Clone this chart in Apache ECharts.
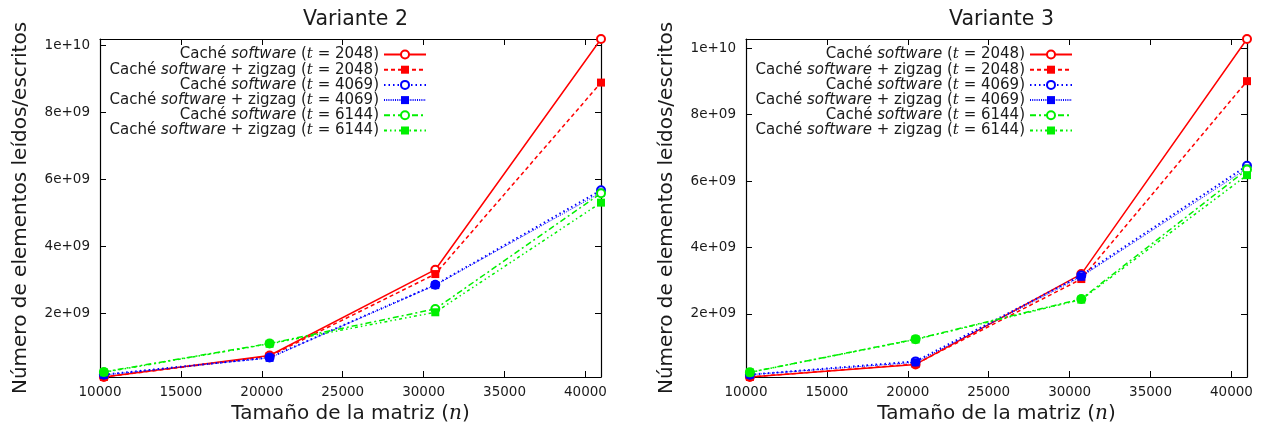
<!DOCTYPE html>
<html>
<head>
<meta charset="utf-8">
<script src="https://cdn.jsdelivr.net/npm/echarts@6/dist/echarts.min.js"></script>
<style>html,body{margin:0;padding:0;background:#fff;}#c{width:1264px;height:432px;}</style>
</head>
<body>
<div id="c"></div>
<script>
// ---- data ----
const xValues = [10240, 20480, 30720, 40960];
const xTicks = [10000, 15000, 20000, 25000, 30000, 35000, 40000];
const yTicks = [2e9, 4e9, 6e9, 8e9, 1e10];
const titles = ['Variante 2', 'Variante 3'];
const seriesNames = [
  'Caché software (t = 2048)',
  'Caché software + zigzag (t = 2048)',
  'Caché software (t = 4069)',
  'Caché software + zigzag (t = 4069)',
  'Caché software (t = 6144)',
  'Caché software + zigzag (t = 6144)'
];
// Variante 2
const v2_sw2048 = [0.11e9, 0.75e9, 3.31e9, 10.19e9];
const v2_zz2048 = [0.11e9, 0.73e9, 3.18e9, 8.89e9];
const v2_sw4069 = [0.18e9, 0.69e9, 2.86e9, 5.68e9];
const v2_zz4069 = [0.17e9, 0.68e9, 2.85e9, 5.61e9];
const v2_sw6144 = [0.26e9, 1.11e9, 2.14e9, 5.59e9];
const v2_zz6144 = [0.25e9, 1.10e9, 2.04e9, 5.31e9];
// Variante 3
const v3_sw2048 = [0.10e9, 0.48e9, 3.20e9, 10.28e9];
const v3_zz2048 = [0.10e9, 0.49e9, 3.05e9, 9.01e9];
const v3_sw4069 = [0.17e9, 0.57e9, 3.16e9, 6.46e9];
const v3_zz4069 = [0.17e9, 0.54e9, 3.12e9, 6.38e9];
const v3_sw6144 = [0.24e9, 1.24e9, 2.45e9, 6.35e9];
const v3_zz6144 = [0.24e9, 1.23e9, 2.43e9, 6.18e9];

const panels = [
  [v2_sw2048, v2_zz2048, v2_sw4069, v2_zz4069, v2_sw6144, v2_zz6144],
  [v3_sw2048, v3_zz2048, v3_sw4069, v3_zz4069, v3_sw6144, v3_zz6144]
];

// ---- styles ----
const styles = [
  {color: '#ff0000', type: 'solid', width: 1.5, symbol: 'emptyCircle', size: 8},
  {color: '#ff0000', type: [4, 3], width: 1.5, symbol: 'rect', size: 8},
  {color: '#0000ff', type: [1.5, 3], width: 2, symbol: 'emptyCircle', size: 8},
  {color: '#0000ff', type: [1, 1.2], width: 1, symbol: 'rect', size: 8},
  {color: '#00f000', type: [6, 3, 2, 3], width: 1.5, symbol: 'emptyCircle', size: 8},
  {color: '#00f000', type: [3, 3, 1.5, 3, 1.5, 3], width: 1.5, symbol: 'rect', size: 8}
];

const FONT = 'DejaVu Sans';
const TXT = '#1a1a1a';
const grids = [
  {left: 100, top: 39, width: 501, height: 338},
  {left: 746, top: 39, width: 501, height: 338}
];

function gfmt(v) {
  const e = Math.floor(Math.log10(v) + 1e-9);
  const m = Math.round(v / Math.pow(10, e) * 1000) / 1000;
  return m + 'e+' + (e < 10 ? '0' : '') + e;
}

const option = {
  animation: false,
  backgroundColor: '#fff',
  title: titles.map((t, i) => ({
    text: t, left: grids[i].left + grids[i].width / 2, top: 4, textAlign: 'center',
    textStyle: {fontFamily: FONT, fontSize: 20.5, fontWeight: 'normal', color: TXT}
  })),
  grid: grids,
  xAxis: [],
  yAxis: [],
  legend: [],
  series: []
};

panels.forEach((arrs, p) => {
  const all = [].concat(...arrs);
  const ymin = Math.min(...all), ymax = Math.max(...all);
  const axLine = {show: true, lineStyle: {color: '#000', width: 1.2}};
  option.xAxis.push({
    type: 'value', gridIndex: p, min: 10000, max: 40960, position: 'bottom',
    name: 'Tamaño de la matriz ({n|n})', nameLocation: 'middle', nameGap: 27,
    nameTextStyle: {fontFamily: FONT, fontSize: 20, color: TXT,
      rich: {n: {fontFamily: 'DejaVu Serif', fontStyle: 'italic', fontSize: 20, color: TXT}}},
    axisLine: axLine,
    axisTick: {show: true, inside: true, length: 6, customValues: xTicks, lineStyle: {color: '#000'}},
    axisLabel: {customValues: xTicks, formatter: v => String(v), fontFamily: FONT, fontSize: 13.5, color: TXT, margin: 8},
    splitLine: {show: false}
  });
  option.xAxis.push({
    type: 'value', gridIndex: p, min: 10000, max: 40960, position: 'top',
    axisLine: axLine,
    axisTick: {show: true, inside: true, length: 6, customValues: xTicks, lineStyle: {color: '#000'}},
    axisLabel: {show: false},
    splitLine: {show: false}
  });
  option.yAxis.push({
    type: 'value', gridIndex: p, min: ymin, max: ymax, position: 'left',
    name: 'Número de elementos leídos/escritos', nameLocation: 'middle', nameGap: 69,
    nameTextStyle: {fontFamily: FONT, fontSize: 20, color: TXT},
    axisLine: axLine,
    axisTick: {show: true, inside: true, length: 6, customValues: yTicks, lineStyle: {color: '#000'}},
    axisLabel: {customValues: yTicks, formatter: gfmt, fontFamily: FONT, fontSize: 13.5, color: TXT, margin: 10},
    splitLine: {show: false}
  });
  option.yAxis.push({
    type: 'value', gridIndex: p, min: ymin, max: ymax, position: 'right',
    axisLine: axLine,
    axisTick: {show: true, inside: true, length: 6, customValues: yTicks, lineStyle: {color: '#000'}},
    axisLabel: {show: false},
    splitLine: {show: false}
  });
  arrs.forEach((arr, s) => {
    const st = styles[s];
    option.series.push({
      type: 'line', name: seriesNames[s],
      xAxisIndex: p * 2, yAxisIndex: p * 2,
      data: xValues.map((x, k) => [x, arr[k]]),
      symbol: st.symbol, symbolSize: st.size, clip: false,
      lineStyle: {color: st.color, type: st.type, width: st.width},
      itemStyle: {color: st.color, borderColor: st.color, borderWidth: st.symbol === 'emptyCircle' ? 1.5 : 0},
      emphasis: {disabled: true}
    });
  });
  option.legend.push({
    data: seriesNames,
    orient: 'vertical', align: 'right',
    right: 1264 - (grids[p].left + 327), top: 47,
    padding: 0, itemGap: 0.2, itemWidth: 42, itemHeight: 10,
    selectedMode: false,
    formatter: n => {
      const m = n.match(/^Caché software( \+ zigzag)? \(t = (\d+)\)$/);
      return '{r|Caché }{i|software}{r|' + (m[1] || '') + ' (}{m|t}{r| = ' + m[2] + ')}';
    },
    textStyle: {
      color: TXT, fontFamily: FONT, fontSize: 15, lineHeight: 15,
      rich: {
        r: {fontFamily: FONT, fontSize: 15, lineHeight: 15, color: TXT},
        i: {fontFamily: FONT, fontStyle: 'italic', fontSize: 15, lineHeight: 15, color: TXT},
        m: {fontFamily: 'DejaVu Serif', fontStyle: 'italic', fontSize: 15, lineHeight: 15, color: TXT}
      }
    }
  });
});

const chart = echarts.init(document.getElementById('c'), null, {renderer: 'canvas'});
chart.setOption(option);
</script>
</body>
</html>
